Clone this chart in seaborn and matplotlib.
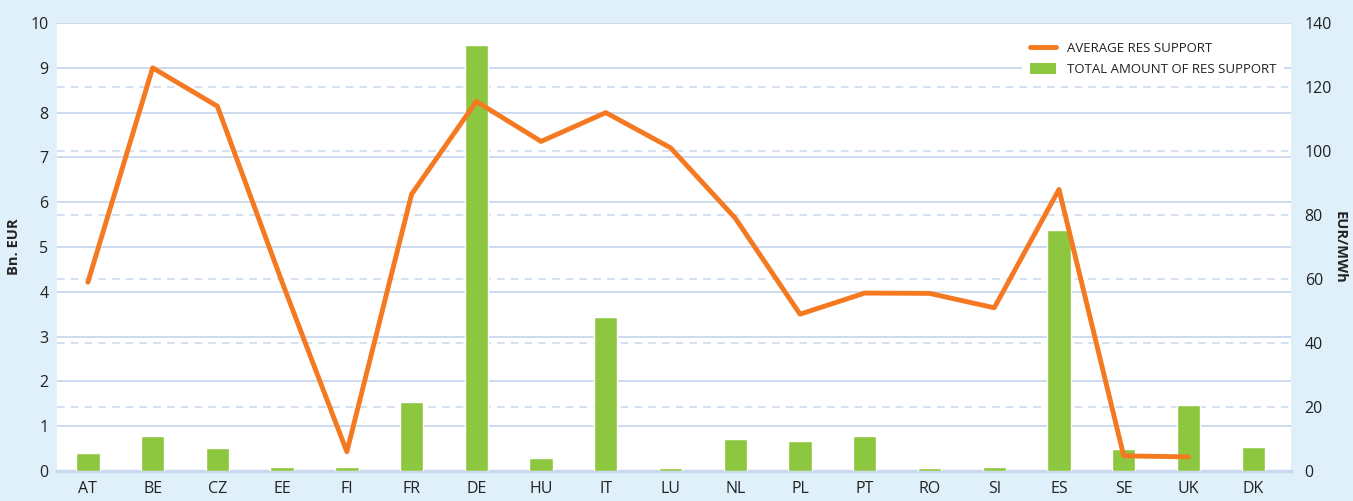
import numpy as np
import pandas as pd
import matplotlib
matplotlib.use('Agg')
import matplotlib.pyplot as plt
from matplotlib.ticker import FixedLocator
from matplotlib.lines import Line2D
from matplotlib.patches import Patch
import seaborn as sns

sns.set_theme(style='white')
plt.rcParams['font.family'] = ['Open Sans', 'DejaVu Sans']

# data
countries = ['AT', 'BE', 'CZ', 'EE', 'FI', 'FR', 'DE', 'HU', 'IT', 'LU',
             'NL', 'PL', 'PT', 'RO', 'SI', 'ES', 'SE', 'UK', 'DK']
total_support = [0.41, 0.78, 0.52, 0.09, 0.08, 1.55, 9.50, 0.28, 3.44, 0.06,
                 0.72, 0.66, 0.77, 0.06, 0.08, 5.38, 0.50, 1.48, 0.53]
avg_support = [59, 126, 114, 59, 6, 86.5, 115.5, 103, 112, 101,
               79, 49, 55.6, 55.5, 51, 88, 4.7, 4.4, np.nan]

df = pd.DataFrame({'country': countries, 'total': total_support, 'avg': avg_support})

bg = '#dff0fb'
grid_c = '#c9d8ee'
green = '#8dc63f'
orange = '#f47920'

fig, ax = plt.subplots(figsize=(13.53, 5.01), dpi=100)
fig.patch.set_facecolor(bg)
fig.subplots_adjust(left=0.042, right=0.954, top=0.954, bottom=0.06)

sns.barplot(data=df, x='country', y='total', color=green, width=0.36,
            saturation=1, ax=ax, zorder=3)
ax.set_xlim(-0.48, 18.58)
ax.set_ylim(0, 10)
ax.set_yticks(range(0, 11))
ax.yaxis.set_minor_locator(FixedLocator(np.arange(20, 140, 20) / 14))
ax.set_axisbelow(True)
ax.grid(axis='y', which='major', color=grid_c, lw=1.3)
ax.grid(axis='y', which='minor', color=grid_c, lw=1.1, ls=(0, (5, 4)))
ax.set_facecolor('white')
for s in ['top', 'left', 'right']:
    ax.spines[s].set_visible(False)
ax.spines['bottom'].set_color(grid_c)
ax.spines['bottom'].set_linewidth(2.5)
ax.spines['bottom'].set_zorder(2)
ax.tick_params(axis='both', which='both', length=0, labelsize=11.5, colors='#222222', pad=6)
ax.tick_params(axis='x', pad=7)
ax.set_xlabel('')
ax.set_ylabel('Bn. EUR', fontsize=10.5, fontweight='bold', color='#222222')
ax.yaxis.set_label_coords(-0.029, 0.5)

ax2 = ax.twinx()
sns.lineplot(data=df, x='country', y='avg', color=orange, lw=3.5, sort=False, ax=ax2)
ax2.set_ylim(0, 140)
ax2.set_yticks(range(0, 141, 20))
for s in ax2.spines.values():
    s.set_visible(False)
ax2.tick_params(axis='y', length=0, labelsize=11.5, colors='#222222', pad=10)
ax2.set_xlabel('')
ax2.set_ylabel('EUR/MWh', fontsize=10.5, fontweight='bold', color='#222222', rotation=270)
ax2.yaxis.set_label_coords(1.045, 0.5)

handles = [Line2D([0], [0], color=orange, lw=3.5),
           Patch(facecolor=green, edgecolor='none')]
leg = ax2.legend(handles, ['AVERAGE RES SUPPORT', 'TOTAL AMOUNT OF RES SUPPORT'],
                 loc='upper right', bbox_to_anchor=(1.0, 0.99), fontsize=9.5,
                 frameon=True, facecolor='white', edgecolor='none', framealpha=1,
                 fancybox=False, handlelength=2.0, handleheight=0.9, borderpad=0.6,
                 labelspacing=0.6)
for t in leg.get_texts():
    t.set_color('#222222')

fig.savefig('out.png', dpi=100, facecolor=bg)
